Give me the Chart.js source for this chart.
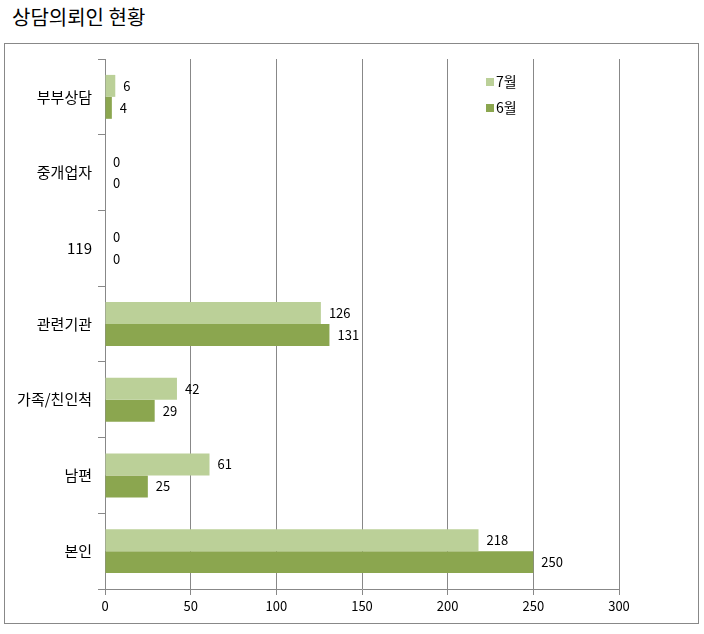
<!DOCTYPE html>
<html>
<head>
<meta charset="utf-8">
<script src="https://cdn.jsdelivr.net/npm/chart.js@4"></script>
<style>
  body { margin: 0; background: #fff; width: 704px; height: 634px; position: relative; font-family: "Noto Sans CJK KR", sans-serif; }
  #title { position: absolute; left: 12px; top: 2px; font-size: 20px; color: #000; }
  #box { position: absolute; left: 4px; top: 43px; width: 693px; height: 579px; border: 1px solid #888; }
  canvas { display: block; }
</style>
</head>
<body>
<div id="title">상담의뢰인 현황</div>
<div id="box"><canvas id="chart" width="693" height="579"></canvas></div>
<script>
// 카테고리와 값
const categories = ['부부상담', '중개업자', '119', '관련기관', '가족/친인척', '남편', '본인'];
const july = [6, 0, 0, 126, 42, 61, 218];
const june = [4, 0, 0, 131, 29, 25, 250];
const seriesLabels = ['7월', '6월'];
const xTicks = [0, 50, 100, 150, 200, 250, 300];

const FONT = '"Noto Sans CJK KR", sans-serif';

// 막대 오른쪽에 값 표시
const valueLabels = {
  id: 'valueLabels',
  afterDatasetsDraw(chart) {
    const ctx = chart.ctx;
    ctx.save();
    ctx.font = '13px ' + FONT;
    ctx.fillStyle = '#000';
    ctx.textAlign = 'left';
    ctx.textBaseline = 'middle';
    chart.data.datasets.forEach((ds, i) => {
      chart.getDatasetMeta(i).data.forEach((el, j) => {
        ctx.fillText(String(ds.data[j]), el.x + 8, el.y);
      });
    });
    ctx.restore();
  }
};

// 범례 (차트 안쪽 오른쪽 위)
const innerLegend = {
  id: 'innerLegend',
  afterDraw(chart) {
    const ctx = chart.ctx;
    ctx.save();
    ctx.font = '14px ' + FONT;
    ctx.textBaseline = 'middle';
    chart.data.datasets.forEach((ds, i) => {
      const y = 38 + i * 26;
      ctx.fillStyle = ds.backgroundColor;
      ctx.fillRect(481, y - 4, 8, 8);
      ctx.fillStyle = '#000';
      ctx.fillText(ds.label, 491, y);
    });
    ctx.restore();
  }
};

new Chart(document.getElementById('chart'), {
  type: 'bar',
  data: {
    labels: categories,
    datasets: [
      { label: seriesLabels[0], data: july, backgroundColor: '#BBD098', barPercentage: 1, categoryPercentage: 0.58 },
      { label: seriesLabels[1], data: june, backgroundColor: '#8BA64F', barPercentage: 1, categoryPercentage: 0.58 }
    ]
  },
  options: {
    indexAxis: 'y',
    responsive: false,
    animation: false,
    layout: { padding: { top: 13, right: 79, bottom: 0, left: 0 } },
    plugins: {
      legend: { display: false },
      tooltip: { enabled: false }
    },
    scales: {
      x: {
        min: 0,
        max: 300,
        afterBuildTicks: s => { s.ticks = xTicks.map(v => ({ value: v })); },
        afterFit: s => { s.height = 34; },
        grid: { color: '#888', tickLength: 6, tickColor: '#888' },
        border: { color: '#888' },
        ticks: { color: '#000', font: { size: 13, family: FONT }, padding: 3 }
      },
      y: {
        afterFit: s => { s.width = 100; },
        grid: { offset: true, drawOnChartArea: false, tickLength: 7, tickColor: '#888' },
        border: { color: '#888' },
        ticks: { color: '#000', font: { size: 15, family: FONT }, padding: 6 }
      }
    }
  },
  plugins: [valueLabels, innerLegend]
});
</script>
</body>
</html>
